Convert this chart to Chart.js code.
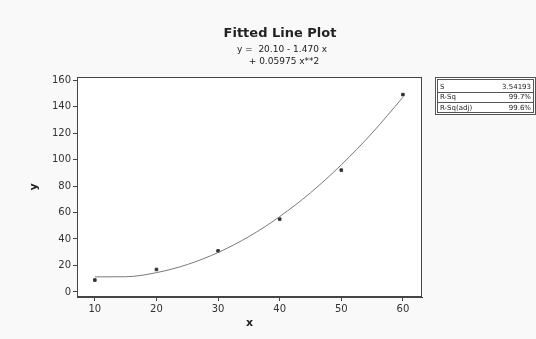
<!DOCTYPE html>
<html>
<head>
<meta charset="utf-8">
<script src="https://cdn.jsdelivr.net/npm/chart.js@4"></script>
<style>
  html, body { margin: 0; padding: 0; background: #f9f9f9; }
  #wrap { width: 536px; height: 339px; }
</style>
</head>
<body>
<div id="wrap"><canvas id="fitChart" width="536" height="339"></canvas></div>
<script>
// Observaciones
const xObs = [10, 20, 30, 40, 50, 60];
const yObs = [9, 17, 31, 55, 92, 149];

// Curva ajustada
const xFit = [10, 15, 20, 25, 30, 35, 40, 45, 50, 55, 60];
const yFit = [11.4, 11.5, 14.6, 20.7, 29.8, 41.8, 56.9, 74.9, 96.0, 120.0, 147.0];

// Textos
const titulo = 'Fitted Line Plot';
const ecuacion = ['y =  20.10 - 1.470 x', '+ 0.05975 x**2'];
const statsLabels = ['S', 'R-Sq', 'R-Sq(adj)'];
const statsValues = ['3.54193', '99.7%', '99.6%'];

const FONT = '"DejaVu Sans", sans-serif';

const fondoPlugin = {
    id: 'fondo',
    beforeDatasetsDraw(chart) {
        const ctx = chart.ctx;
        const area = chart.chartArea;
        ctx.save();
        ctx.fillStyle = '#ffffff';
        ctx.fillRect(area.left, area.top, area.right - area.left, area.bottom - area.top);
        ctx.restore();
    }
};

const textosPlugin = {
    id: 'textos',
    afterDraw(chart) {
        const ctx = chart.ctx;
        const area = chart.chartArea;
        ctx.save();

        // Marco del área de trazado
        ctx.strokeStyle = '#444';
        ctx.lineWidth = 1;
        ctx.strokeRect(area.left + 0.5, area.top + 0.5, area.right - area.left - 1, area.bottom - area.top - 1);

        // Título y ecuación
        ctx.fillStyle = '#222';
        ctx.textAlign = 'center';
        ctx.textBaseline = 'middle';
        ctx.font = 'bold 13px ' + FONT;
        ctx.fillText(titulo, 280, 34);
        ctx.font = '9px ' + FONT;
        ctx.fillText(ecuacion[0], 282, 50);
        ctx.fillText(ecuacion[1], 284, 62);

        // Cuadro de estadísticas
        ctx.fillStyle = '#ffffff';
        ctx.fillRect(435, 77, 101, 38);
        ctx.strokeStyle = '#555';
        ctx.strokeRect(435.5, 77.5, 100, 37);
        ctx.strokeRect(437.5, 79.5, 96, 33);
        ctx.beginPath();
        ctx.moveTo(438, 92.5); ctx.lineTo(534, 92.5);
        ctx.moveTo(438, 102.5); ctx.lineTo(534, 102.5);
        ctx.stroke();
        ctx.font = '7px ' + FONT;
        ctx.fillStyle = '#222';
        statsLabels.forEach((lab, i) => {
            const y = 87 + i * 10.5;
            ctx.textAlign = 'left';
            ctx.fillText(lab, 440, y);
            ctx.textAlign = 'right';
            ctx.fillText(statsValues[i], 531, y);
        });
        ctx.restore();
    }
};

const ctx = document.getElementById('fitChart').getContext('2d');

new Chart(ctx, {
    type: 'scatter',
    data: {
        datasets: [
            {
                label: 'Ajuste',
                type: 'line',
                data: xFit.map((x, i) => ({ x: x, y: yFit[i] })),
                borderColor: '#7a7a7a',
                borderWidth: 1,
                pointRadius: 0,
                cubicInterpolationMode: 'monotone',
                fill: false
            },
            {
                label: 'Datos',
                data: xObs.map((x, i) => ({ x: x, y: yObs[i] })),
                backgroundColor: '#333',
                borderColor: '#333',
                pointStyle: 'rect',
                pointRadius: 1.8
            }
        ]
    },
    options: {
        responsive: false,
        animation: false,
        layout: { padding: { top: 77, right: 114, bottom: 0, left: 0 } },
        plugins: {
            legend: { display: false },
            tooltip: { enabled: false }
        },
        scales: {
            x: {
                type: 'linear',
                min: 7.1,
                max: 63.1,
                afterFit: (scale) => { scale.height = 42; },
                ticks: {
                    stepSize: 10,
                    includeBounds: false,
                    color: '#333',
                    font: { family: FONT, size: 10 },
                    padding: 2
                },
                grid: { drawOnChartArea: false, drawTicks: true, tickLength: 4, color: '#444' },
                border: { display: true, color: '#444' },
                title: {
                    display: true,
                    text: 'x',
                    color: '#222',
                    font: { family: FONT, size: 11, weight: 'bold' },
                    padding: { top: 0, bottom: 9 }
                }
            },
            y: {
                min: -3.8,
                max: 162.3,
                afterFit: (scale) => { scale.width = 77; },
                ticks: {
                    stepSize: 20,
                    includeBounds: false,
                    color: '#333',
                    font: { family: FONT, size: 10 },
                    padding: 2
                },
                grid: { drawOnChartArea: false, drawTicks: true, tickLength: 4, color: '#444' },
                border: { display: true, color: '#444' },
                title: {
                    display: true,
                    text: 'y',
                    color: '#222',
                    font: { family: FONT, size: 11, weight: 'bold' },
                    padding: { top: 28, bottom: 0 }
                }
            }
        }
    },
    plugins: [fondoPlugin, textosPlugin]
});
</script>
</body>
</html>
